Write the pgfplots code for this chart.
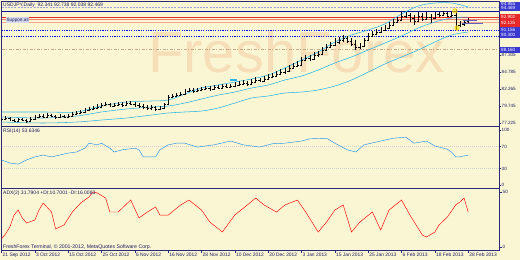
\documentclass[border=0pt]{standalone}
\usepackage{fontspec}
\setmainfont{Liberation Sans}
\usepackage{pgfplots}
\usepackage{pgfplotstable}
\pgfplotsset{compat=1.18}
\definecolor{bg}{HTML}{FAF6D4}
\definecolor{frame}{HTML}{2A2A78}
\definecolor{txt}{HTML}{1E1E64}
\definecolor{bb}{HTML}{2CB4E6}
\definecolor{rsi}{HTML}{2090F0}
\definecolor{wm}{HTML}{F6DFB8}
\definecolor{boxblue}{HTML}{3A3AD0}
\definecolor{boxred}{HTML}{E82828}
\definecolor{navyl}{HTML}{1010A0}
\definecolor{lav}{HTML}{A0A0E0}
\definecolor{salm}{HTML}{F08070}
\definecolor{lsalm}{HTML}{F4A890}
\definecolor{tan2}{HTML}{C8A888}
\definecolor{purp}{HTML}{6060C0}
\definecolor{lblbg}{HTML}{D4D6EA}

\pgfplotstableread{
i o h l c
0 77.67 78.12 77.52 77.82
1 77.82 78.26 77.67 77.97
2 77.97 78.12 77.52 77.67
3 77.67 77.82 77.37 77.52
4 77.52 77.97 77.37 77.82
5 77.82 77.97 77.52 77.67
6 77.67 77.82 77.23 77.52
7 77.52 78.12 77.37 77.82
8 77.82 78.41 77.67 78.12
9 78.12 78.56 77.97 78.26
10 78.26 78.56 77.97 78.12
11 78.12 78.71 77.97 78.41
12 78.41 78.56 78.12 78.26
13 78.26 78.41 77.82 78.12
14 78.12 78.56 77.97 78.26
15 78.26 78.41 77.97 78.12
16 78.12 78.56 77.97 78.26
17 78.26 78.86 78.12 78.56
18 78.56 79.00 78.41 78.71
19 78.71 79.15 78.56 78.86
20 78.86 79.45 78.71 79.15
21 79.15 79.60 79.00 79.30
22 79.30 79.74 79.15 79.45
23 79.45 80.04 79.30 79.60
24 79.60 80.19 79.45 79.89
25 79.89 80.34 79.74 80.04
26 80.04 80.19 79.60 79.74
27 79.74 80.19 79.60 79.89
28 79.89 80.34 79.74 80.04
29 80.04 80.34 79.60 79.89
30 79.89 80.49 79.74 80.19
31 80.19 80.49 79.89 80.04
32 80.04 80.34 79.60 79.89
33 79.89 80.19 79.45 79.74
34 79.74 80.04 79.30 79.60
35 79.60 79.89 79.15 79.45
36 79.45 79.89 79.15 79.60
37 79.60 79.74 79.00 79.30
38 79.30 79.74 79.15 79.45
39 79.45 80.19 79.30 80.04
40 80.04 81.37 79.89 81.08
41 81.08 81.52 80.93 81.23
42 81.23 81.67 81.08 81.37
43 81.37 81.82 81.23 81.52
44 81.52 82.26 81.37 81.97
45 81.97 82.41 81.82 82.12
46 82.12 82.41 81.67 81.97
47 81.97 82.41 81.82 82.12
48 82.12 82.56 81.97 82.26
49 82.26 82.71 82.12 82.41
50 82.41 82.71 81.97 82.26
51 82.26 82.86 82.12 82.56
52 82.56 82.86 82.26 82.41
53 82.41 83.00 82.26 82.71
54 82.71 83.00 82.41 82.56
55 82.56 83.00 82.41 82.71
56 82.71 83.30 82.56 82.86
57 82.86 83.45 82.71 83.00
58 83.00 83.60 82.86 83.15
59 83.15 83.45 82.71 83.00
60 83.00 83.75 82.86 83.30
61 83.30 84.04 83.15 83.60
62 83.60 83.89 83.30 83.45
63 83.45 84.19 83.30 83.75
64 83.75 84.49 83.60 84.04
65 84.04 84.64 83.89 84.19
66 84.19 84.93 84.04 84.49
67 84.49 85.23 84.34 84.78
68 84.78 85.38 84.49 84.93
69 84.93 85.82 84.78 85.38
70 85.38 86.12 85.23 85.67
71 85.67 86.41 85.52 85.82
72 85.82 87.01 85.67 86.56
73 86.56 87.30 86.41 86.86
74 86.86 87.30 86.41 86.71
75 86.71 87.75 86.56 87.30
76 87.30 87.90 87.01 87.45
77 87.45 88.49 87.30 88.04
78 88.04 88.93 87.90 88.49
79 88.49 89.23 88.34 88.79
80 88.79 89.82 88.64 89.23
81 89.23 89.97 88.93 89.53
82 89.53 90.27 89.23 89.82
83 89.82 90.12 89.08 89.38
84 89.38 89.82 88.64 88.93
85 88.93 89.53 88.04 88.49
86 88.49 89.08 88.19 88.64
87 88.64 89.82 88.49 89.53
88 89.53 90.56 89.38 90.12
89 90.12 90.86 89.97 90.41
90 90.41 91.16 90.27 90.71
91 90.71 91.45 90.56 91.01
92 91.01 91.75 90.86 91.30
93 91.30 92.19 91.16 91.75
94 91.75 92.64 91.60 92.19
95 92.19 92.93 92.05 92.49
96 92.49 93.68 92.34 93.08
97 93.08 93.68 92.79 93.23
98 93.23 93.53 92.19 92.79
99 92.79 93.23 91.75 92.34
100 92.34 93.68 92.19 93.08
101 93.08 93.53 92.34 92.64
102 92.64 93.68 92.49 92.93
103 92.93 93.38 92.05 92.79
104 92.79 93.68 92.64 93.38
105 93.38 93.68 92.93 93.23
106 93.23 93.83 93.08 93.53
107 93.53 93.68 92.93 93.08
108 93.08 93.68 92.93 93.23
109 93.23 94.12 91.01 91.75
110 91.75 92.34 91.45 91.90
111 91.90 92.49 91.60 92.19
112 92.34 92.74 92.04 92.47
}\ohlc

\pgfplotstableread{
i up mid lo
0 78.86 78.12 77.37
10 78.86 77.97 77.23
18 78.86 78.26 77.37
24 79.74 78.86 77.67
30 80.34 79.30 77.97
36 80.49 79.60 78.41
40 80.63 79.74 78.71
44 81.52 80.19 78.86
48 82.41 80.78 79.00
52 82.86 81.37 79.45
56 83.30 81.82 80.19
60 83.75 82.41 80.93
64 84.34 82.86 81.23
68 85.38 83.60 81.67
72 86.56 84.19 81.82
76 87.75 85.08 82.12
80 89.23 86.12 82.71
84 90.27 87.01 83.60
88 91.01 88.04 84.78
92 91.90 89.08 85.97
96 93.38 90.12 87.01
100 94.56 91.30 88.04
104 95.01 92.19 89.23
108 95.01 92.79 90.27
112 94.42 92.93 90.71
}\boll

\pgfplotstableread{
i v
0 45.5
2 40
4 38
6 45.5
8 51
10 54.5
12 51
14 54.5
16 58
18 60
20 67
21 76
23 73
24 76
26 67
27 60
29 64
32 67
33 64
34 51
37 51
38 64
40 73
42 76
44 76
47 69
51 73
55 80
58 73
62 69
65 75
68 76
72 80
74 84
78 85
80 76
83 64
85 60
87 73
91 80
94 85
97 87
99 76
102 80
104 71
106 67
107 65
108 60
109 51
110 51
111 53
112 53.6346
}\rsidata

\pgfplotstableread{
i v
0 7.3
1 12
2 18.2
3 29
4 33.6
5 26.4
6 21.8
8 24.5
9 33.6
10 40
12 31.8
13 16.4
15 20
17 31.8
19 40
21 45.5
22 50
23 49.1
25 44.5
26 31.8
28 31.8
31 42.7
33 26.4
35 31.8
37 36.4
38 29
40 29
43 38.2
45 42.7
48 33.6
50 22.7
53 13.6
56 29.1
59 38.2
61 44.5
63 38.2
66 31.8
68 38.2
71 42.7
73 31.8
76 13.6
78 22.7
80 33.6
82 38.2
84 13.6
86 22.7
89 31.8
91 15.5
93 33.6
96 42.7
98 29.1
101 10.9
102 9.1
104 13.6
105 20
107 27.3
109 38.2
110 40.9
111 44.5
112 31.7904
}\adxdata

\pgfplotsset{panel/.style={
  scale only axis, width=497.5pt, xmin=0, xmax=119.39,
  axis line style={frame, line width=0.7pt},
  tick style={frame, line width=0.5pt},
  xtick=\empty, ytick pos=right, yticklabel pos=right,
  tick align=outside, major tick length=2pt,
  yticklabel style={font=\fontsize{4.6}{5}\selectfont, text=txt, inner sep=0.5pt},
  anchor=north west}}

\begin{document}
\begin{tikzpicture}
\fill[bg] (0pt,0pt) rectangle (520pt,-260pt);
\useasboundingbox (0pt,0pt) rectangle (520pt,-260pt);
\node[anchor=base west, inner sep=0pt, text=wm, font=\fontsize{58}{58}\selectfont] at (148pt,-72pt) {FreshForex};

% main price panel
\begin{axis}[panel, at={(1.5pt,-1.5pt)}, height=125pt, ymin=76.71, ymax=95.23,
  ytick={77.225,79.745,82.265,84.785,87.305},
  yticklabels={77.225,79.745,82.265,84.785,87.305}]
\addplot[lav, line width=0.5pt, dash pattern=on 2pt off 1.2pt] coordinates {(0,94.42) (119.39,94.42)};
\addplot[navyl, line width=0.7pt] coordinates {(0,93.83) (119.39,93.83)};
\addplot[boxred, line width=0.7pt] coordinates {(0,92.93) (119.39,92.93)};
\addplot[salm, line width=0.6pt] coordinates {(0,92.64) (119.39,92.64)};
\addplot[lsalm, line width=0.6pt] coordinates {(0,92.19) (119.39,92.19)};
\addplot[blue, line width=0.6pt, dash pattern=on 1.2pt off 1.2pt] coordinates {(0,91.01) (119.39,91.01)};
\addplot[blue, line width=0.6pt, dash pattern=on 1.2pt off 1.2pt] coordinates {(0,90.12) (119.39,90.12)};
\addplot[tan2, line width=0.5pt, dash pattern=on 3pt off 1.5pt on 1pt off 1.5pt] coordinates {(0,88.19) (119.39,88.19)};
\addplot[bb, line width=0.55pt, smooth] table[x=i, y=up] {\boll};
\addplot[bb, line width=0.55pt, smooth] table[x=i, y=mid] {\boll};
\addplot[bb, line width=0.55pt, smooth] table[x=i, y=lo] {\boll};
\addplot[black, line width=0.4pt, quiver={u=0, v=\thisrow{h}-\thisrow{l}}] table[x=i, y=l] {\ohlc};
\addplot[black, line width=0.4pt, quiver={u=-0.38, v=0}] table[x=i, y=o] {\ohlc};
\addplot[black, line width=0.4pt, quiver={u=0.38, v=0}] table[x=i, y=c] {\ohlc};
\addplot[only marks, mark=*, mark size=2.4pt, mark options={fill=yellow!85!orange, draw=yellow!70!orange, fill opacity=0.6}] coordinates {(108.8,93.83) (109.3,91.30)};
\addplot[purp, line width=0.6pt] coordinates {(110.8,92.49) (114.2,92.49)};
\addplot[purp, line width=0.6pt] coordinates {(110.5,91.95) (115.5,91.95)};
\addplot[bb, line width=1.2pt] coordinates {(54.9,83.60) (56.6,83.60)};
\end{axis}

% RSI panel
\begin{axis}[panel, at={(1.5pt,-126.5pt)}, height=62pt, ymin=-6.36, ymax=106.36,
  ytick={0,30,70,100}, yticklabels={0,30,70,100}]
\addplot[gray!35, line width=0.4pt, dash pattern=on 1pt off 1pt] coordinates {(0,70) (119.39,70)};
\addplot[gray!35, line width=0.4pt, dash pattern=on 1pt off 1pt] coordinates {(0,30) (119.39,30)};
\addplot[rsi, line width=0.45pt] table[x=i, y=v] {\rsidata};
\end{axis}

% ADX panel
\begin{axis}[panel, at={(1.5pt,-188.5pt)}, height=61.5pt, ymin=-2.73, ymax=53.18,
  ytick={0,50}, yticklabels={0,50},
  xtick={0,8,...,112}, xtick pos=left, major tick length=3pt,
  xticklabels={21 Sep 2012,3 Oct 2012,15 Oct 2012,25 Oct 2012,6 Nov 2012,16 Nov 2012,28 Nov 2012,10 Dec 2012,20 Dec 2012,3 Jan 2013,15 Jan 2013,25 Jan 2013,6 Feb 2013,18 Feb 2013,28 Feb 2013},
  xticklabel style={anchor=north west, font=\fontsize{4.9}{5}\selectfont, text=txt, inner sep=0pt, xshift=1pt, yshift=0pt}]
\addplot[red, line width=0.45pt] table[x=i, y=v] {\adxdata};
\end{axis}

% texts
\node[anchor=west, inner sep=0pt, text=txt, font=\fontsize{5}{6}\selectfont] at (3pt,-4.8pt) {USDJPY,Daily\ \ 92.341 92.738 92.038 92.469};
\node[anchor=west, inner sep=0.4pt, fill=lblbg, text=txt, font=\fontsize{4.6}{5}\selectfont] at (6pt,-20pt) {Support.all};
\node[anchor=west, inner sep=0pt, text=txt, font=\fontsize{5}{6}\selectfont] at (3pt,-131.5pt) {RSI(14) 53.6346};
\node[anchor=west, inner sep=0pt, text=txt, font=\fontsize{5}{6}\selectfont] at (3pt,-193.5pt) {ADX(2) 31.7904 +DI:10.7001 -DI:16.0083};
\node[anchor=west, inner sep=0pt, text=txt, font=\fontsize{5.2}{6}\selectfont] at (3pt,-247.3pt) {FreshForex Terminal, \textcopyright{} 2001-2012, MetaQuotes Software Corp.};

% right price labels
\begin{scope}[font=\fontsize{4.6}{5}\selectfont, every node/.style={inner sep=0pt, text=white, anchor=west}]
\fill[boxblue] (499.5pt,-1.5pt) rectangle (520pt,-10.5pt);
\node at (501pt,-3.7pt) {94.955};
\node at (501pt,-8pt) {94.469};
\fill[boxred] (499.5pt,-13.5pt) rectangle (520pt,-26.5pt);
\node at (501pt,-17pt) {92.902};
\node at (501pt,-23pt) {92.135};
\fill[boxblue] (499.5pt,-27pt) rectangle (520pt,-38pt);
\node at (501pt,-29.5pt) {91.156};
\node at (501pt,-35pt) {90.300};
\fill[boxblue] (499.5pt,-46.5pt) rectangle (520pt,-52.5pt);
\node at (501pt,-49.5pt) {88.160};
\end{scope}
\end{tikzpicture}
\end{document}
